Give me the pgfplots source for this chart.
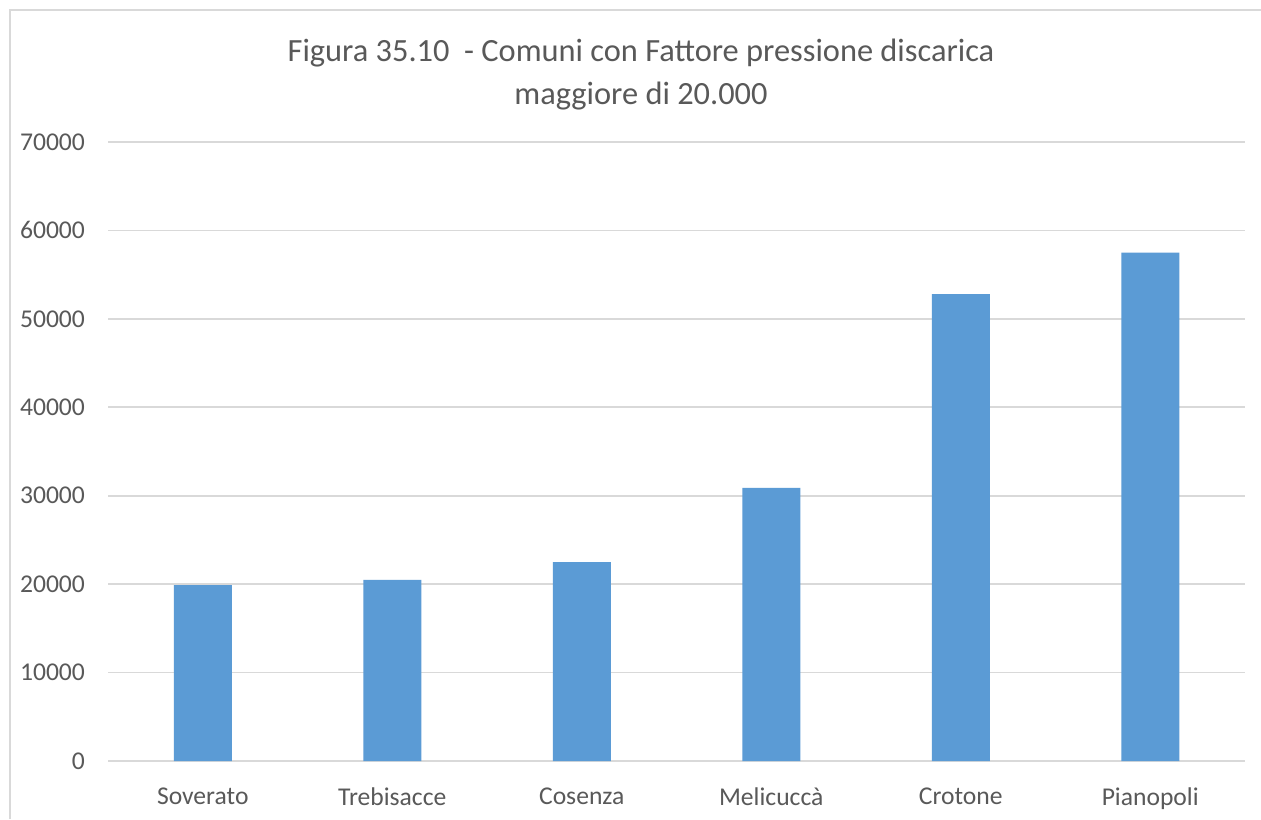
\documentclass[border=0pt]{standalone}
\usepackage{pgfplots}
\pgfplotsset{compat=1.18}
\usepackage{fontspec}
\setmainfont{Carlito}
\definecolor{barblue}{HTML}{5B9BD5}
\definecolor{gridgray}{HTML}{D9D9D9}
\definecolor{textgray}{HTML}{595959}
\begin{document}
\begin{tikzpicture}[x=0.5pt,y=0.5pt]
% canvas: 1261 x 819 units (0.5pt each), origin at bottom-left
\useasboundingbox (0,0) rectangle (1261,819);
\fill[white] (0,0) rectangle (1261,819);
\draw[gridgray, line width=1.2pt] (10,0) -- (10,809) -- (1261,809);
\node[text=textgray, font=\fontsize{16.2}{21.5}\selectfont, align=center] at (641,744)
  {Figura 35.10\ \ - Comuni con Fattore pressione discarica\\maggiore di 20.000};
\begin{axis}[
  at={(54pt,29pt)}, anchor=south west,
  scale only axis, width=568.5pt, height=309.5pt,
  xmin=-0.5, xmax=5.5, ymin=0, ymax=70000,
  axis line style={draw=none},
  xtick={0,...,5},
  xticklabels={Soverato,Trebisacce,Cosenza,Melicuccà,Crotone,Pianopoli},
  ytick={0,10000,...,70000},
  scaled y ticks=false,
  /pgf/number format/fixed,
  /pgf/number format/1000 sep={},
  /pgf/number format/assume math mode=true,
  tick style={draw=none},
  ymajorgrids, grid style={gridgray, line width=0.8pt},
  ticklabel style={text=textgray, font=\fontsize{12.8}{15}\selectfont},
  xticklabel style={yshift=-5.5pt},
  yticklabel style={xshift=-8pt},
  ybar, bar width=29pt,
]
\addplot[fill=barblue, draw=none] coordinates {
  (0,19900) (1,20470) (2,22500) (3,30900) (4,52800) (5,57500)};
\end{axis}
\end{tikzpicture}
\end{document}
